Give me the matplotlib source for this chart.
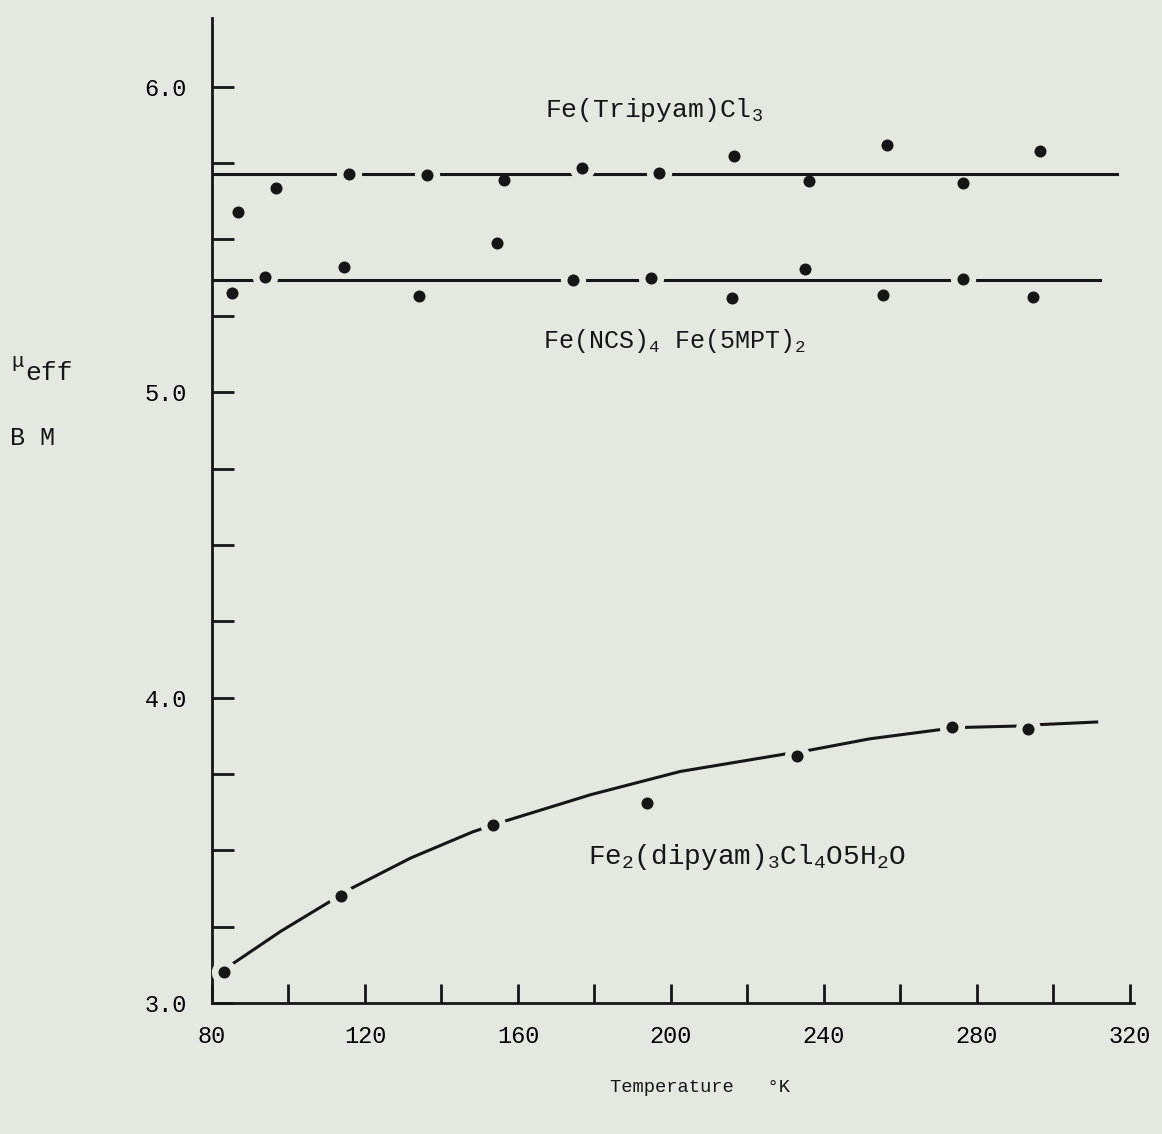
import numpy as np
import matplotlib
matplotlib.use("Agg")
import matplotlib.pyplot as plt
from matplotlib.ticker import MultipleLocator, FixedLocator

plt.rcParams['font.family'] = ['Liberation Mono', 'DejaVu Sans Mono']
plt.rcParams['mathtext.default'] = 'regular'

paper = '#e5e7e1'
ink = '#161616'

# Fe(Tripyam)Cl3 readings
trip_T = [86.8, 96.7, 115.8, 136.2, 156.3, 176.7, 196.9, 216.5, 236.1, 256.5, 276.3, 296.5]
trip_mu = [5.591, 5.669, 5.715, 5.712, 5.694, 5.734, 5.718, 5.772, 5.691, 5.810, 5.685, 5.789]
trip_gap = [False, False, True, True, False, True, True, False, False, False, False, False]
trip_fit_T = [80, 316.6]
trip_fit_mu = [5.715, 5.715]

# Fe(NCS)4 Fe(5MPT)2 readings
ncs_T = [85.2, 93.9, 114.5, 134.1, 154.5, 174.4, 194.8, 216.0, 235.0, 255.4, 276.3, 294.6]
ncs_mu = [5.324, 5.377, 5.411, 5.315, 5.487, 5.366, 5.373, 5.309, 5.402, 5.317, 5.369, 5.311]
ncs_gap = [False, True, False, False, False, True, True, False, False, False, True, False]
ncs_fit_T = [80, 312.2]
ncs_fit_mu = [5.367, 5.367]

# Fe2(dipyam)3Cl4.5H2O readings
dip_T = [83.2, 113.6, 153.4, 193.6, 232.9, 273.6, 293.3]
dip_mu = [3.103, 3.349, 3.584, 3.655, 3.808, 3.903, 3.898]
dip_gap = [True, True, True, False, True, True, True]
# hand drawn curve
dip_curve_T = [85.6, 98.0, 110.8, 115.6, 132.0, 148.1, 156.2, 179.0, 202.4, 230.7, 235.5,
               252.0, 270.3, 275.6, 291.2, 295.6, 311.3]
dip_curve_mu = [3.130, 3.235, 3.332, 3.370, 3.475, 3.560, 3.594, 3.682, 3.758, 3.817, 3.826,
                3.865, 3.895, 3.902, 3.907, 3.911, 3.920]

fig = plt.figure(figsize=(11.62, 11.34), dpi=100, facecolor=paper)
ax = fig.add_axes([212 / 1162, 1 - 1003 / 1134, 921.8 / 1162, 985 / 1134])
ax.set_facecolor(paper)

ax.plot(trip_fit_T, trip_fit_mu, color=ink, lw=2.2, zorder=2)
ax.plot(ncs_fit_T, ncs_fit_mu, color=ink, lw=2.2, zorder=2)
ax.plot(dip_curve_T, dip_curve_mu, color=ink, lw=2.2, zorder=2, solid_joinstyle='round')

for T, mu, gap in [(trip_T, trip_mu, trip_gap), (ncs_T, ncs_mu, ncs_gap), (dip_T, dip_mu, dip_gap)]:
    T = np.array(T)
    mu = np.array(mu)
    gap = np.array(gap)
    # break the line round the dots like the hand drawing
    ax.scatter(T[gap], mu[gap], s=330, color=paper, linewidths=0, zorder=3)
    ax.scatter(T, mu, s=75, color=ink, linewidths=0, zorder=4)

ax.set_xlim(80, 321)
ax.set_ylim(3.0, 6.225)

for s in ['top', 'right']:
    ax.spines[s].set_visible(False)
for s in ['left', 'bottom']:
    ax.spines[s].set_linewidth(2.0)
    ax.spines[s].set_color(ink)

ax.xaxis.set_major_locator(FixedLocator([80, 120, 160, 200, 240, 280, 320]))
ax.xaxis.set_minor_locator(FixedLocator([100, 140, 180, 220, 260, 300]))
ax.yaxis.set_major_locator(MultipleLocator(1.0))
ax.yaxis.set_minor_locator(MultipleLocator(0.25))
ax.yaxis.set_major_formatter(matplotlib.ticker.FormatStrFormatter('%.1f'))

ax.tick_params(axis='x', which='both', direction='in', length=14, width=2, color=ink, pad=16, labelsize=17)
ax.tick_params(axis='y', which='both', direction='in', length=16, width=2, color=ink, pad=18, labelsize=17)

ax.text(167.1, 5.925, 'Fe(Tripyam)Cl$_3$', fontsize=19, va='center', ha='left', color=ink)
ax.text(166.5, 5.167, 'Fe(NCS)$_4$ Fe(5MPT)$_2$', fontsize=18, va='center', ha='left', color=ink)
ax.text(178.3, 3.479, 'Fe$_2$(dipyam)$_3$Cl$_4$O5H$_2$O', fontsize=20, va='center', ha='left', color=ink)

fig.text(11 / 1162, 1 - 362 / 1134, 'μ', fontsize=15, va='center', ha='left', color=ink)
fig.text(25 / 1162, 1 - 373 / 1134, 'eff', fontsize=19, va='center', ha='left', color=ink)
fig.text(10 / 1162, 1 - 438 / 1134, 'B M', fontsize=18, va='center', ha='left', color=ink)

fig.text(700 / 1162, 1 - 1087 / 1134, 'Temperature   °K', fontsize=13.5, va='center', ha='center', color=ink)

plt.savefig('out.png', dpi=100, facecolor=paper)
